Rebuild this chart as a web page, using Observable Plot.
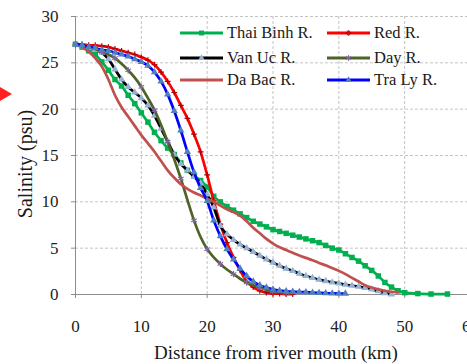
<!DOCTYPE html>
<html><head><meta charset="utf-8">
<script src="https://cdn.jsdelivr.net/npm/d3@7"></script>
<script src="https://cdn.jsdelivr.net/npm/@observablehq/plot@0.6"></script>
<style>
body{margin:0;background:#fff;}
#wrap{position:relative;width:467px;height:364px;overflow:hidden;font-family:"Liberation Serif","DejaVu Serif",serif;color:#1a1a1a;}
.leg{position:absolute;display:flex;align-items:center;font-size:16.5px;white-space:nowrap;height:20px;}
.leg svg{margin-right:4px;}
.ttl{position:absolute;white-space:nowrap;line-height:1;}
#arrow{position:absolute;left:0;top:87px;width:0;height:0;border-top:7px solid transparent;border-bottom:7px solid transparent;border-left:12px solid #ff2020;}
</style></head><body><div id="wrap"><div id="arrow"></div></div>
<script>
// ---- data (distance from river mouth in km, salinity in psu) ----
const seriesNames = ["Thai Binh R.", "Red R.", "Van Uc R.", "Day R.", "Da Bac R.", "Tra Ly R."];

const thaiBinhKm  = [0,1,2,3,4,5,6,7,8,9,10,11,12,13,14,15,16,17,18,19,20,21,22,23,24,25,26,27,28,29,30,31,32,33,34,35,36,37,38,39,40,41,42,43,44,45,46,47,48,49,50,52,54,56.5];
const thaiBinhPsu = [27,26.7,26.3,25.9,25.1,24.2,23.2,22.5,21.5,20.6,19.6,18.6,17.5,16.6,15.8,15.1,14.2,13.4,12.8,12.3,11.6,10.6,10.0,9.5,9.1,8.7,8.3,7.9,7.6,7.3,7.0,6.8,6.6,6.4,6.2,6.0,5.8,5.6,5.3,5.0,4.8,4.4,4.0,3.6,3.1,2.6,2.0,1.3,0.8,0.4,0.2,0.1,0.05,0.05];

const redKm  = [0,1,2,3,4,5,6,7,8,9,10,11,12,13,14,15,16,17,18,19,20,21,22,23,24,25,26,27,28,29,30,31,32,33];
const redPsu = [27,27,26.9,26.9,26.8,26.7,26.5,26.3,26.1,25.9,25.6,25.3,24.8,24.0,23.0,21.8,20.4,19.0,17.3,15.4,12.9,10.1,7.6,5.6,4.0,2.6,1.4,0.8,0.4,0.2,0.1,0.1,0.05,0.05];

const vanUcKm  = [0,1,2,3,4,5,6,7,8,9,10,11,12,13,14,15,16,17,18,19,20,21,22,23,24,25,26,27,28,29,30,31,32,33,34,35,36,37,38,39,40,41,42,43,44,45,46,47,48];
const vanUcPsu = [27,26.8,26.6,26.4,26.1,25.4,24.3,23.2,22.4,21.8,21.2,20.4,19.3,17.9,16.5,15.1,14.1,13.4,12.7,12.0,10.8,9.4,7.4,6.5,5.9,5.4,5.0,4.6,4.2,3.8,3.45,3.1,2.8,2.55,2.25,2.0,1.8,1.6,1.45,1.3,1.2,1.05,0.95,0.85,0.7,0.55,0.35,0.15,0.0];

const dayKm  = [0,1,2,3,4,5,6,7,8,9,10,11,12,13,14,15,16,17,18,19,20,21,22,23,24,25,26,27,28,29,30,31,32,33];
const dayPsu = [27,26.9,26.7,26.5,26.2,25.9,25.5,24.9,24.2,23.4,22.4,21.2,19.9,18.3,16.5,14.6,12.5,10.2,8.0,6.2,4.9,4.0,3.3,2.7,2.2,1.7,1.3,1.0,0.75,0.5,0.35,0.25,0.2,0.15];

const daBacKm  = [0,1,2,3,4,5,6,7,8,9,10,11,12,13,14,15,16,17,18,19,20,21,22,23,24,25,26,27,28,29,30,31,32,33,34,35,36,37,38,39,40,41,42,43,44,45,46,47,48,49];
const daBacPsu = [27,26.7,26.2,25.5,24.6,23.2,21.5,20.2,19.2,18.2,17.2,16.3,15.4,14.4,13.4,12.6,11.9,11.4,11.0,10.7,10.3,10.0,9.6,9.2,8.9,8.5,7.9,7.2,6.6,6.0,5.5,5.1,4.8,4.5,4.2,3.95,3.7,3.4,3.15,2.85,2.55,2.2,1.8,1.4,1.0,0.75,0.55,0.4,0.3,0.25];

const traLyKm  = [0,1,2,3,4,5,6,7,8,9,10,11,12,13,14,15,16,17,18,19,20,21,22,23,24,25,26,27,28,29,30,31,32,33,34,35,36,37,38,39,40,41];
const traLyPsu = [27,26.9,26.7,26.6,26.4,26.3,26.1,25.9,25.7,25.4,25.1,24.7,24.0,23.0,21.6,19.8,17.7,15.4,13.2,11.5,10.1,8.0,6.3,4.9,3.8,2.8,2.0,1.4,1.0,0.75,0.55,0.42,0.35,0.3,0.27,0.25,0.2,0.18,0.15,0.12,0.1,0.1];

const xTicks = [0,10,20,30,40,50,60];
const yTicks = [0,5,10,15,20,25,30];
const xTitle = "Distance from river mouth (km)";
const yTitle = "Salinity (psu)";

// ---- styling ----
const styles = [
  {line:"#00b050", mark:"#00b050", symbol:"square",   r:3.1, every:1, markStroke:false},
  {line:"#ff0000", mark:"#b00000", symbol:"plus",     r:2,   every:1, markStroke:true},
  {line:"#000000", mark:"#95b3d7", symbol:"triangle", r:2.7, every:1, markStroke:false},
  {line:"#4f6228", mark:"#8064a2", symbol:"asterisk", r:3,   every:2, markStroke:true},
  {line:"#c0504d", mark:null,      symbol:null,       r:0,   every:1, markStroke:false},
  {line:"#0000ff", mark:"#4f81bd", symbol:"triangle", r:2.7, every:1, markStroke:false}
];
const kms  = [thaiBinhKm, redKm, vanUcKm, dayKm, daBacKm, traLyKm];
const psus = [thaiBinhPsu, redPsu, vanUcPsu, dayPsu, daBacPsu, traLyPsu];

const series = seriesNames.map((name, i) => ({
  name, ...styles[i],
  data: kms[i].map((km, j) => ({km, psu: psus[i][j], j}))
}));

const marks = [
  Plot.gridY(yTicks.filter(d => d > 0), {stroke:"#c4c4c4", strokeOpacity:1, strokeDasharray:"3,2"}),
  Plot.gridX(xTicks.filter(d => d > 0), {stroke:"#c4c4c4", strokeOpacity:1, strokeDasharray:"3,2"}),
  Plot.ruleX([0], {stroke:"#8c8c8c"}),
  Plot.ruleY([0], {stroke:"#8c8c8c"}),
  Plot.axisY(yTicks, {anchor:"left", tickSize:4, tickPadding:13, fontSize:17, stroke:"#8c8c8c", fill:"#222", label:null}),
  Plot.axisX(xTicks, {anchor:"bottom", tickSize:4, tickPadding:21, fontSize:17, stroke:"#8c8c8c", fill:"#222", label:null})
];
for (const s of series) {
  marks.push(Plot.line(s.data, {x:"km", y:"psu", stroke:s.line, strokeWidth:2.7, curve:"monotone-x"}));
  if (s.symbol) {
    const md = s.data.filter(d => d.j % s.every === 0);
    marks.push(Plot.dot(md, s.markStroke
      ? {x:"km", y:"psu", symbol:s.symbol, r:s.r, stroke:s.mark, strokeWidth:1.2, fill:"none"}
      : {x:"km", y:"psu", symbol:s.symbol, r:s.r, fill:s.mark, stroke:"none"}));
  }
}

const chart = Plot.plot({
  width: 467, height: 364,
  marginTop: 16, marginBottom: 70, marginLeft: 75, marginRight: 0,
  x: {domain:[0,60], range:[75,470], axis:null},
  y: {domain:[0,30], range:[294,16], axis:null},
  style: {fontFamily:'"Liberation Serif","DejaVu Serif",serif', background:"transparent", overflow:"visible"},
  marks
});
const wrap = document.getElementById("wrap");
wrap.appendChild(chart);
chart.style.position = "absolute";
chart.style.left = "0px";
chart.style.top = "0px";

// ---- titles ----
const xt = document.createElement("div");
xt.className = "ttl"; xt.textContent = xTitle;
xt.style.fontSize = "19px";
xt.style.left = "276px"; xt.style.top = "352px"; xt.style.transform = "translate(-50%,-50%)";
wrap.appendChild(xt);
const yt = document.createElement("div");
yt.className = "ttl"; yt.textContent = yTitle;
yt.style.fontSize = "20px";
yt.style.left = "25px"; yt.style.top = "164px"; yt.style.transform = "translate(-50%,-50%) rotate(-90deg)";
wrap.appendChild(yt);

// ---- legend ----
const colLeft = [180, 327];
const rowTop = [23, 48, 70];
series.forEach((s, i) => {
  const col = i % 2, row = Math.floor(i / 2);
  const item = document.createElement("div");
  item.className = "leg";
  item.style.left = colLeft[col] + "px";
  item.style.top = rowTop[row] + "px";
  const ns = "http://www.w3.org/2000/svg";
  const svg = document.createElementNS(ns, "svg");
  svg.setAttribute("width", "43"); svg.setAttribute("height", "10");
  const ln = document.createElementNS(ns, "line");
  ln.setAttribute("x1", "0"); ln.setAttribute("x2", "43");
  ln.setAttribute("y1", "5"); ln.setAttribute("y2", "5");
  ln.setAttribute("stroke", s.line); ln.setAttribute("stroke-width", "3");
  svg.appendChild(ln);
  if (s.symbol) {
    const sym = d3.symbol().type({square:d3.symbolSquare, plus:d3.symbolCross, triangle:d3.symbolTriangle, asterisk:d3.symbolAsterisk}[s.symbol]).size(Math.PI * s.r * s.r * 0.8);
    const p = document.createElementNS(ns, "path");
    p.setAttribute("d", sym());
    p.setAttribute("transform", "translate(21.5,5)");
    if (s.markStroke) { p.setAttribute("fill", "none"); p.setAttribute("stroke", s.mark); }
    else p.setAttribute("fill", s.mark);
    svg.appendChild(p);
  }
  item.appendChild(svg);
  const t = document.createElement("span");
  t.textContent = s.name;
  item.appendChild(t);
  wrap.appendChild(item);
});
</script>
</body></html>
